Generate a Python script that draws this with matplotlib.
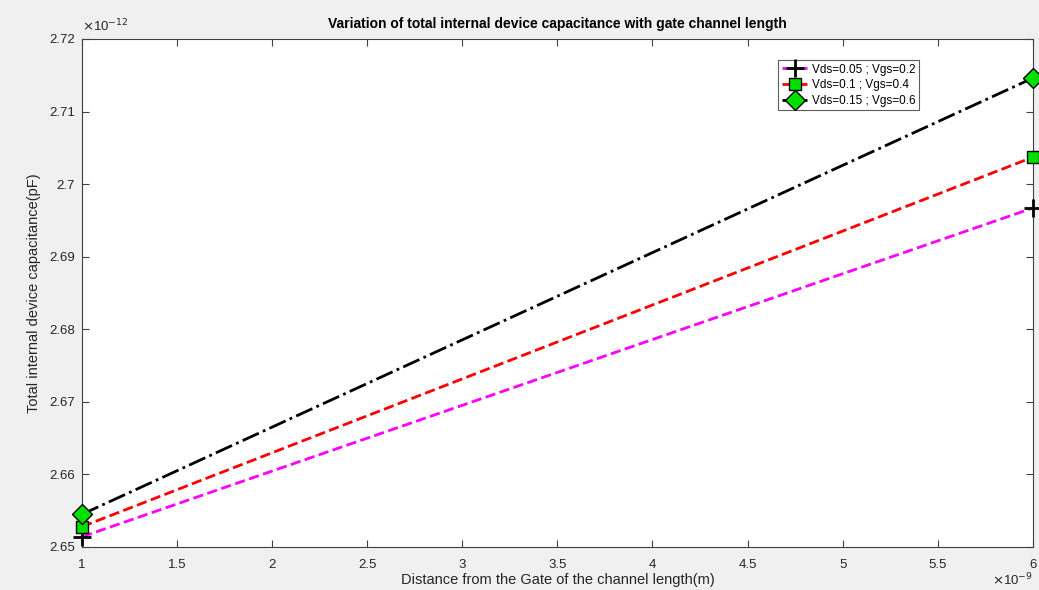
import numpy as np
import matplotlib.pyplot as plt
from matplotlib.ticker import FuncFormatter, MultipleLocator

# Distance from gate (m) and total capacitance (F) for three bias points
distance = [1e-9, 6e-9]
cap_005 = [2.6514e-12, 2.6967e-12]
cap_010 = [2.6528e-12, 2.7037e-12]
cap_015 = [2.6545e-12, 2.7146e-12]
labels = ['Vds=0.05 ; Vgs=0.2', 'Vds=0.1 ; Vgs=0.4', 'Vds=0.15 ; Vgs=0.6']

txt = '#262626'
plt.rcParams['font.family'] = ['Liberation Sans', 'DejaVu Sans']

fig = plt.figure(figsize=(10.39, 5.90), dpi=100, facecolor='#f0f0f0')
ax = fig.add_axes([0.079, 0.073, 0.915, 0.861])

ax.plot(distance, cap_005, '--', color='magenta', lw=2, marker='+',
        ms=13, mec='black', mew=2, label=labels[0], clip_on=False, zorder=3)
ax.plot(distance, cap_010, '--', color='red', lw=2, marker='s',
        ms=8, mfc='#00e000', mec='black', mew=1, label=labels[1],
        clip_on=False, zorder=3)
ax.plot(distance, cap_015, '-.', color='black', lw=2, marker='D',
        ms=10, mfc='#00e000', mec='black', mew=1, label=labels[2],
        clip_on=False, zorder=3)

ax.set_xlim(1e-9, 6e-9)
ax.set_ylim(2.65e-12, 2.72e-12)
ax.xaxis.set_major_locator(MultipleLocator(0.5e-9))
ax.yaxis.set_major_locator(MultipleLocator(0.01e-12))
ax.xaxis.set_major_formatter(FuncFormatter(lambda v, p: '%g' % round(v * 1e9, 3)))
ax.yaxis.set_major_formatter(FuncFormatter(lambda v, p: '%g' % round(v * 1e12, 4)))

ax.tick_params(direction='in', top=True, right=True, length=5, width=0.8,
               colors='#404040', labelcolor=txt, labelsize=9.5)
ax.tick_params(axis='x', pad=9)
ax.tick_params(axis='y', pad=5)
for s in ax.spines.values():
    s.set_color('#404040')
    s.set_linewidth(0.8)

ax.text(0.0, 1.01, r'$\times$10$^{-12}$', transform=ax.transAxes,
        ha='left', va='bottom', fontsize=9.5, color=txt)
ax.text(1.0, -0.048, r'$\times$10$^{-9}$', transform=ax.transAxes,
        ha='right', va='top', fontsize=9.5, color=txt)

ax.set_title('Variation of total internal device capacitance with gate channel length',
             fontsize=10, fontweight='bold', color='black', pad=8)
ax.set_xlabel('Distance from the Gate of the channel length(m)', fontsize=10.5,
              color=txt, labelpad=1)
ax.set_ylabel('Total internal device capacitance(pF)', fontsize=10.5,
              color=txt, labelpad=6)

leg = ax.legend(loc='upper right', bbox_to_anchor=(0.887, 0.97), fontsize=8.5,
                frameon=True, fancybox=False, edgecolor='#333333',
                handlelength=2.2, borderpad=0.3, labelspacing=0.3,
                handletextpad=0.4)
leg.get_frame().set_linewidth(0.8)

plt.savefig('out.png', dpi=100, facecolor=fig.get_facecolor())
